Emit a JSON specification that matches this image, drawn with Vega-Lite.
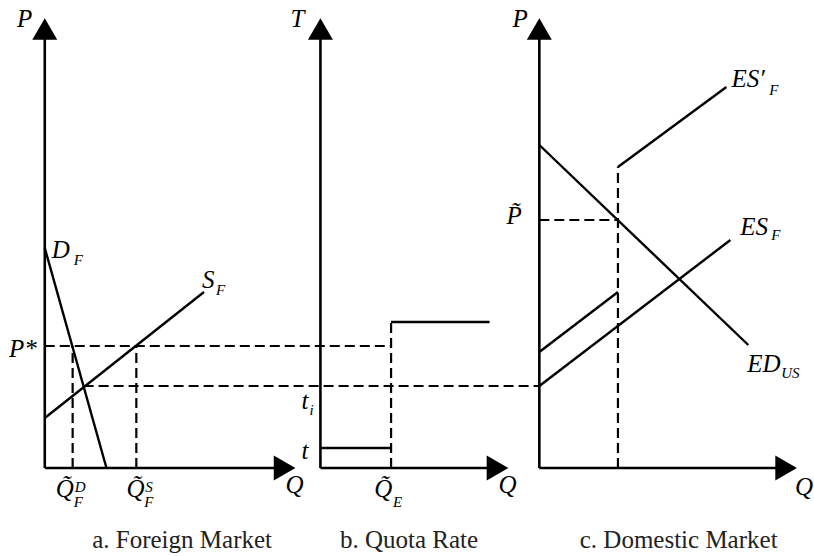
{
  "$schema": "https://vega.github.io/schema/vega-lite/v6.json",
  "width": 814,
  "height": 556,
  "autosize": {"type": "fit", "contains": "padding"},
  "padding": 0,
  "background": "white",
  "config": {"view": {"stroke": null}},
  "datasets": {
    "axes": [
      {"x": 45, "y": 88, "x2": 45, "y2": 522},
      {"x": 45, "y": 88, "x2": 280, "y2": 88},
      {"x": 322, "y": 88, "x2": 322, "y2": 522},
      {"x": 322, "y": 88, "x2": 494, "y2": 88},
      {"x": 542, "y": 88, "x2": 542, "y2": 522},
      {"x": 542, "y": 88, "x2": 784, "y2": 88}
    ],
    "curves": [
      {"name": "D_F", "x": 45, "y": 308, "x2": 107, "y2": 88},
      {"name": "S_F", "x": 45, "y": 138, "x2": 205, "y2": 264},
      {"name": "t", "x": 322, "y": 108, "x2": 393, "y2": 108},
      {"name": "t_i", "x": 393, "y": 234, "x2": 492, "y2": 234},
      {"name": "ED_US", "x": 542, "y": 411, "x2": 752, "y2": 211},
      {"name": "ES_F", "x": 542, "y": 170, "x2": 734, "y2": 316},
      {"name": "ES'_F low", "x": 542, "y": 204, "x2": 621, "y2": 264},
      {"name": "ES'_F high", "x": 621, "y": 389, "x2": 730, "y2": 469}
    ],
    "guides": [
      {"x": 45, "y": 210, "x2": 393, "y2": 210},
      {"x": 84, "y": 170, "x2": 542, "y2": 170},
      {"x": 73, "y": 88, "x2": 73, "y2": 210},
      {"x": 137, "y": 88, "x2": 137, "y2": 210},
      {"x": 393, "y": 88, "x2": 393, "y2": 234},
      {"x": 542, "y": 336, "x2": 621, "y2": 336},
      {"x": 621, "y": 88, "x2": 621, "y2": 389}
    ],
    "arrowsUp": [
      {"x": 45, "y": 527},
      {"x": 322, "y": 527},
      {"x": 542, "y": 527}
    ],
    "arrowsRight": [
      {"x": 286, "y": 88},
      {"x": 500, "y": 88},
      {"x": 790, "y": 88}
    ],
    "labels": [
      {"label": "P", "x": 17, "y": 529},
      {"label": "T", "x": 292, "y": 529},
      {"label": "P", "x": 515, "y": 529},
      {"label": "D", "x": 52, "y": 298},
      {"label": "S", "x": 203, "y": 268},
      {"label": "P*", "x": 9, "y": 199},
      {"label": "Q̃", "x": 56, "y": 59},
      {"label": "Q̃", "x": 127, "y": 59},
      {"label": "Q", "x": 287, "y": 63},
      {"label": "t", "x": 303, "y": 147},
      {"label": "t", "x": 303, "y": 97},
      {"label": "Q̃", "x": 376, "y": 59},
      {"label": "Q", "x": 501, "y": 63},
      {"label": "ES′", "x": 735, "y": 469},
      {"label": "ES", "x": 744, "y": 321},
      {"label": "P̃", "x": 509, "y": 332},
      {"label": "ED", "x": 751, "y": 184},
      {"label": "Q", "x": 799, "y": 61}
    ],
    "subs": [
      {"label": "F", "x": 74, "y": 291},
      {"label": "F", "x": 217, "y": 261},
      {"label": "D", "x": 75, "y": 64},
      {"label": "F", "x": 74, "y": 49},
      {"label": "S", "x": 146, "y": 64},
      {"label": "F", "x": 145, "y": 49},
      {"label": "i", "x": 311, "y": 141},
      {"label": "E", "x": 395, "y": 49},
      {"label": "F", "x": 773, "y": 461},
      {"label": "F", "x": 775, "y": 316},
      {"label": "US", "x": 785, "y": 178}
    ],
    "captions": [
      {"label": "a. Foreign Market", "x": 183, "y": 8},
      {"label": "b. Quota Rate", "x": 411, "y": 8},
      {"label": "c. Domestic Market", "x": 682, "y": 8}
    ]
  },
  "layer": [
    {
      "data": {"name": "axes"},
      "mark": {"type": "rule", "color": "black", "strokeWidth": 2.6},
      "encoding": {
        "x": {"field": "x", "type": "quantitative", "scale": {"domain": [0, 814], "nice": false}, "axis": null},
        "y": {"field": "y", "type": "quantitative", "scale": {"domain": [0, 556], "nice": false}, "axis": null},
        "x2": {"field": "x2"},
        "y2": {"field": "y2"}
      }
    },
    {
      "data": {"name": "curves"},
      "mark": {"type": "rule", "color": "black", "strokeWidth": 2.4},
      "encoding": {
        "x": {"field": "x", "type": "quantitative", "axis": null},
        "y": {"field": "y", "type": "quantitative", "axis": null},
        "x2": {"field": "x2"},
        "y2": {"field": "y2"}
      }
    },
    {
      "data": {"name": "guides"},
      "mark": {"type": "rule", "color": "black", "strokeWidth": 2.2, "strokeDash": [10, 5]},
      "encoding": {
        "x": {"field": "x", "type": "quantitative", "axis": null},
        "y": {"field": "y", "type": "quantitative", "axis": null},
        "x2": {"field": "x2"},
        "y2": {"field": "y2"}
      }
    },
    {
      "data": {"name": "arrowsUp"},
      "mark": {"type": "point", "shape": "triangle-up", "filled": true, "size": 625, "color": "black", "opacity": 1, "strokeWidth": 0},
      "encoding": {
        "x": {"field": "x", "type": "quantitative", "axis": null},
        "y": {"field": "y", "type": "quantitative", "axis": null}
      }
    },
    {
      "data": {"name": "arrowsRight"},
      "mark": {"type": "point", "shape": "triangle-right", "filled": true, "size": 625, "color": "black", "opacity": 1, "strokeWidth": 0},
      "encoding": {
        "x": {"field": "x", "type": "quantitative", "axis": null},
        "y": {"field": "y", "type": "quantitative", "axis": null}
      }
    },
    {
      "data": {"name": "labels"},
      "mark": {"type": "text", "font": "Liberation Serif, Times New Roman, DejaVu Serif, serif", "fontStyle": "italic", "fontSize": 25, "align": "left", "baseline": "alphabetic", "color": "black"},
      "encoding": {
        "x": {"field": "x", "type": "quantitative", "axis": null},
        "y": {"field": "y", "type": "quantitative", "axis": null},
        "text": {"field": "label"}
      }
    },
    {
      "data": {"name": "subs"},
      "mark": {"type": "text", "font": "Liberation Serif, Times New Roman, DejaVu Serif, serif", "fontStyle": "italic", "fontSize": 15, "align": "left", "baseline": "alphabetic", "color": "black"},
      "encoding": {
        "x": {"field": "x", "type": "quantitative", "axis": null},
        "y": {"field": "y", "type": "quantitative", "axis": null},
        "text": {"field": "label"}
      }
    },
    {
      "data": {"name": "captions"},
      "mark": {"type": "text", "font": "Liberation Serif, Times New Roman, DejaVu Serif, serif", "fontSize": 25, "align": "center", "baseline": "alphabetic", "color": "#222"},
      "encoding": {
        "x": {"field": "x", "type": "quantitative", "axis": null},
        "y": {"field": "y", "type": "quantitative", "axis": null},
        "text": {"field": "label"}
      }
    }
  ]
}
